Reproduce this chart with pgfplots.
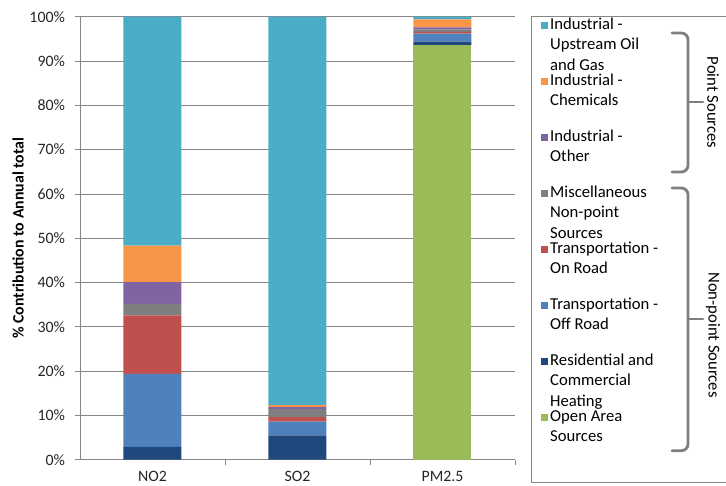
\documentclass[border=0pt]{standalone}
\usepackage{pgfplots}
\usepackage{pgfplotstable}
\pgfplotsset{compat=1.18}
\usepackage{fontspec}
\setmainfont{Carlito}
\definecolor{cUp}{HTML}{4BACC6}
\definecolor{cChem}{HTML}{F79646}
\definecolor{cOther}{HTML}{8064A2}
\definecolor{cMisc}{HTML}{7F7F7F}
\definecolor{cOn}{HTML}{C0504D}
\definecolor{cOff}{HTML}{4F81BD}
\definecolor{cRes}{HTML}{1F497D}
\definecolor{cOpen}{HTML}{9BBB59}
\definecolor{axgray}{HTML}{868686}
\definecolor{brgray}{HTML}{7F7F7F}
\newcommand{\lgfont}{\fontsize{12.5}{15.3}\selectfont}
\newcommand{\tkfont}{\fontsize{11.9}{14}\selectfont}
\newcommand{\lgentry}[1]{\raisebox{0pt}[7.8pt][0pt]{\parbox[t]{105pt}{\lgfont #1}}}
\pgfplotstableread{
x open res off on misc other chem up
0 0 2.9 16.5 13.2 2.6 4.9 8.2 51.7
1 0 5.5 3.1 1.0 1.8 0.5 0.4 87.7
2 93.6 0.8 1.8 0.4 0.5 0.5 1.8 0.6
}\datatable
\begin{document}
\begin{tikzpicture}
\path[use as bounding box] (0,0) rectangle (544.5pt,-364.5pt);
\begin{axis}[
  at={(60pt,-344.775pt)}, anchor=south west,
  width=326.25pt, height=332.25pt, scale only axis,
  ybar stacked, bar width=0.4,
  xmin=-0.5, xmax=2.5, ymin=0, ymax=100,
  axis x line*=bottom, axis y line*=left,
  axis line style={axgray, line width=0.6pt},
  xtick={0,1,2}, xticklabels={NO2,SO2,PM2.5},
  minor xtick={0.5,1.5,2.5},
  major x tick style={draw=none},
  minor x tick style={axgray, line width=0.6pt},
  ytick style={axgray, line width=0.6pt},
  tick align=outside,
  major tick length=3.75pt, minor tick length=3.75pt,
  ytick={0,10,...,100},
  yticklabel={\pgfmathprintnumber{\tick}\%},
  /pgf/number format/assume math mode=true,
  ymajorgrids, grid style={axgray, line width=0.6pt},
  tick label style={font=\tkfont, text=black!85},
  yticklabel style={xshift=-4pt},
  xticklabel style={yshift=-1.5pt},
  ylabel={\% Contribution to Annual total},
  ylabel style={font=\bfseries\tkfont, at={(axis description cs:-0.1425,0.5)}, anchor=center},
  reverse legend,
  legend cell align=left,
  legend image code/.code={\fill[#1] (0pt,-2.7pt) rectangle (5.4pt,2.7pt);},
  legend style={at={(1.05977,0.9945)}, anchor=north west, draw=none, fill=none,
    inner sep=0pt, outer sep=0pt, row sep=32.7pt, column sep=1.5pt,
    nodes={inner sep=0pt, outer sep=0pt}},
]
\addplot[fill=cOpen, draw=none] table[x=x,y=open]{\datatable};
\addlegendentry{\lgentry{Open Area\\Sources}}
\addplot[fill=cRes, draw=none] table[x=x,y=res]{\datatable};
\addlegendentry{\lgentry{Residential and\\Commercial\\Heating}}
\addplot[fill=cOff, draw=none] table[x=x,y=off]{\datatable};
\addlegendentry{\lgentry{Transportation -\\Off Road}}
\addplot[fill=cOn, draw=none] table[x=x,y=on]{\datatable};
\addlegendentry{\lgentry{Transportation -\\On Road}}
\addplot[fill=cMisc, draw=none] table[x=x,y=misc]{\datatable};
\addlegendentry{\lgentry{Miscellaneous\\Non-point\\Sources}}
\addplot[fill=cOther, draw=none] table[x=x,y=other]{\datatable};
\addlegendentry{\lgentry{Industrial -\\Other}}
\addplot[fill=cChem, draw=none] table[x=x,y=chem]{\datatable};
\addlegendentry{\lgentry{Industrial -\\Chemicals}}
\addplot[fill=cUp, draw=none] table[x=x,y=up]{\datatable};
\addlegendentry{\lgentry{Industrial -\\Upstream Oil\\and Gas}}
\end{axis}
\begin{scope}[x=0.75pt, y=-0.75pt]
\draw[axgray, line width=0.75pt] (531,16.7) rectangle (760,482);
\draw[brgray, line width=2.1pt, rounded corners=5pt, line cap=round] (672,33) -- (688,33) -- (688,172) -- (672,172);
\draw[brgray, line width=2.1pt, line cap=round] (688,102) -- (703,102);
\draw[brgray, line width=2.1pt, rounded corners=5pt, line cap=round] (672,188) -- (688,188) -- (688,450.7) -- (672,450.7);
\draw[brgray, line width=2.1pt, line cap=round] (688,319) -- (703,319);
\node[rotate=-90, font=\lgfont, inner sep=0pt] at (713,102.5) {Point Sources};
\node[rotate=-90, font=\lgfont, inner sep=0pt] at (713,335) {Non-point Sources};
\end{scope}
\end{tikzpicture}
\end{document}
